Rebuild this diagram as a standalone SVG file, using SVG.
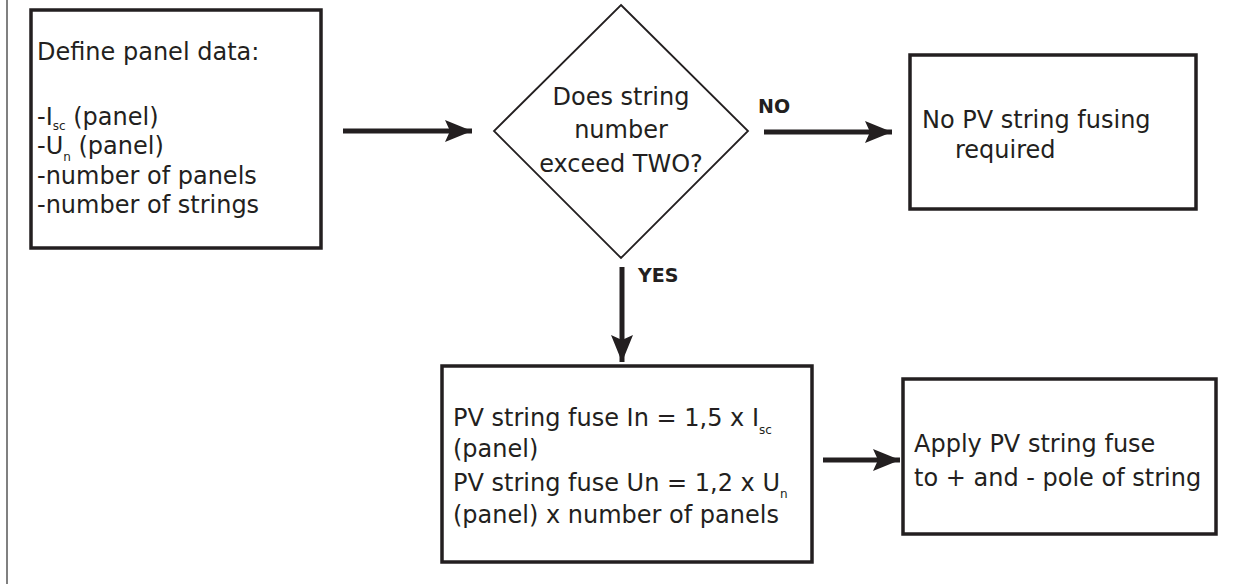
<svg xmlns="http://www.w3.org/2000/svg" width="1250" height="584" viewBox="0 0 1250 584">
<defs>
<style>
.box{fill:#fff;stroke:#231f20;stroke-width:3.5}
.dia{fill:#fff;stroke:#231f20;stroke-width:1.8}
.t{font-family:"DejaVu Sans","Liberation Sans",sans-serif;font-size:24px;fill:#231f20}
.sub{font-size:12px}
.lbl{font-family:"DejaVu Sans","Liberation Sans",sans-serif;font-size:19px;font-weight:bold;fill:#231f20}
.con{stroke:#231f20;stroke-width:5;fill:none}
</style>
<marker id="ah" markerWidth="28" markerHeight="22" refX="27" refY="11" orient="auto" markerUnits="userSpaceOnUse" viewBox="0 0 28 22">
<path d="M0,0 L27,11 L0,22 L5,11 Z" fill="#231f20"/>
</marker>
</defs>
<rect width="1250" height="584" fill="#fff"/>
<line x1="7" y1="0" x2="7" y2="584" stroke="#808080" stroke-width="2"/>
<g id="connectors">
<line class="con" x1="343" y1="131" x2="472" y2="131" marker-end="url(#ah)"/>
<line class="con" x1="764" y1="132" x2="892" y2="132" marker-end="url(#ah)"/>
<line class="con" x1="622" y1="267" x2="622" y2="362" marker-end="url(#ah)"/>
<line class="con" x1="823" y1="460" x2="900" y2="460" marker-end="url(#ah)"/>
<text class="lbl" x="758" y="113">NO</text>
<text class="lbl" x="638" y="282">YES</text>
</g>
<g id="define">
<rect class="box" x="31" y="10" width="290" height="238"/>
<text class="t" x="37" y="60">Define panel data:</text>
<text class="t" x="37" y="125">-I<tspan class="sub" dy="5">sc</tspan><tspan dy="-5"> (panel)</tspan></text>
<text class="t" x="37" y="154">-U<tspan class="sub" dy="7">n</tspan><tspan dy="-7"> (panel)</tspan></text>
<text class="t" x="37" y="184">-number of panels</text>
<text class="t" x="37" y="213">-number of strings</text>
</g>
<g id="decision">
<polygon class="dia" points="621,5 748,131 621,258 494,131"/>
<text class="t" x="621" y="105" text-anchor="middle">Does string</text>
<text class="t" x="621" y="138" text-anchor="middle">number</text>
<text class="t" x="621" y="172" text-anchor="middle">exceed TWO?</text>
</g>
<g id="nofuse">
<rect class="box" x="910" y="55" width="286" height="154"/>
<text class="t" x="922" y="128">No PV string fusing</text>
<text class="t" x="955" y="158">required</text>
</g>
<g id="calc">
<rect class="box" x="442" y="366" width="370" height="196"/>
<text class="t" x="453" y="426">PV string fuse In = 1,5 x I<tspan class="sub" dy="8">sc</tspan></text>
<text class="t" x="453" y="457">(panel)</text>
<text class="t" x="453" y="491">PV string fuse Un = 1,2 x U<tspan class="sub" dy="7">n</tspan></text>
<text class="t" x="453" y="523">(panel) x number of panels</text>
</g>
<g id="apply">
<rect class="box" x="903" y="379" width="313" height="155"/>
<text class="t" x="914" y="452">Apply PV string fuse</text>
<text class="t" x="914" y="486">to + and - pole of string</text>
</g>
</svg>
